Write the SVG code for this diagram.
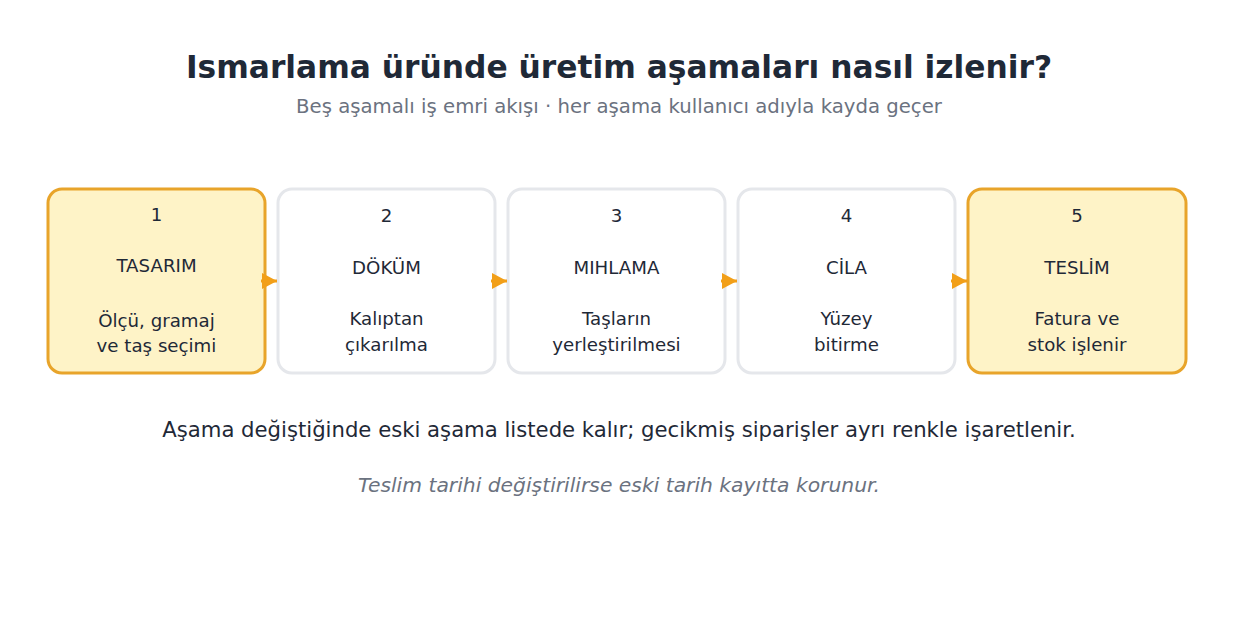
<svg xmlns="http://www.w3.org/2000/svg" width="1237" height="629" viewBox="0 0 1237 629">
<style>
text{font-family:"DejaVu Sans",sans-serif;}
.t{font-size:31.3px;font-weight:bold;fill:#1f2937;text-anchor:middle}
.s{font-size:19.7px;fill:#6b7280;text-anchor:middle}
.box{fill:#ffffff;stroke:#e5e7eb;stroke-width:3}
.hi{fill:#fef3c7;stroke:#e8a42a;stroke-width:3}
.l{font-size:18.2px;fill:#1f2937;text-anchor:middle}
.n{font-size:21.2px;fill:#1f2937;text-anchor:middle}
.i{font-size:20.3px;fill:#6b7280;font-style:italic;text-anchor:middle}
.c{stroke:#f29f18;stroke-width:3;fill:none}
</style>
<defs>
<marker id="ah" viewBox="0 0 15 16" refX="15" refY="8" markerWidth="15" markerHeight="16" markerUnits="userSpaceOnUse" orient="auto">
<path d="M0,0 L15,8 L0,16 z" fill="#f29f18"/>
</marker>
</defs>
<rect width="1237" height="629" fill="#ffffff"/>
<text class="t" x="619" y="78">Ismarlama üründe üretim aşamaları nasıl izlenir?</text>
<text class="s" x="619" y="113">Beş aşamalı iş emri akışı · her aşama kullanıcı adıyla kayda geçer</text>
<g id="node1">
<rect class="hi" x="48" y="189" width="217" height="184" rx="14"/>
<text class="l" x="156.5" y="221">1</text>
<text class="l" x="156.5" y="272">TASARIM</text>
<text class="l" x="156.5" y="327">Ölçü, gramaj</text>
<text class="l" x="156.5" y="352">ve taş seçimi</text>
</g>
<g id="node2">
<rect class="box" x="278" y="189" width="217" height="184" rx="14"/>
<text class="l" x="386.5" y="222">2</text>
<text class="l" x="386.5" y="274">DÖKÜM</text>
<text class="l" x="386.5" y="325">Kalıptan</text>
<text class="l" x="386.5" y="351">çıkarılma</text>
</g>
<g id="node3">
<rect class="box" x="508" y="189" width="217" height="184" rx="14"/>
<text class="l" x="616.5" y="222">3</text>
<text class="l" x="616.5" y="274">MIHLAMA</text>
<text class="l" x="616.5" y="325">Taşların</text>
<text class="l" x="616.5" y="351">yerleştirilmesi</text>
</g>
<g id="node4">
<rect class="box" x="738" y="189" width="217" height="184" rx="14"/>
<text class="l" x="846.5" y="222">4</text>
<text class="l" x="846.5" y="274">CİLA</text>
<text class="l" x="846.5" y="325">Yüzey</text>
<text class="l" x="846.5" y="351">bitirme</text>
</g>
<g id="node5">
<rect class="hi" x="968" y="189" width="218" height="184" rx="14"/>
<text class="l" x="1077" y="222">5</text>
<text class="l" x="1077" y="274">TESLİM</text>
<text class="l" x="1077" y="325">Fatura ve</text>
<text class="l" x="1077" y="351">stok işlenir</text>
</g>
<g id="connectors">
<line class="c" x1="261" y1="281" x2="277" y2="281" marker-end="url(#ah)"/>
<line class="c" x1="491" y1="281" x2="507" y2="281" marker-end="url(#ah)"/>
<line class="c" x1="721" y1="281" x2="737" y2="281" marker-end="url(#ah)"/>
<line class="c" x1="951" y1="281" x2="967" y2="281" marker-end="url(#ah)"/>
</g>
<text class="n" x="619" y="437">Aşama değiştiğinde eski aşama listede kalır; gecikmiş siparişler ayrı renkle işaretlenir.</text>
<text class="i" x="619" y="492">Teslim tarihi değiştirilirse eski tarih kayıtta korunur.</text>
</svg>
